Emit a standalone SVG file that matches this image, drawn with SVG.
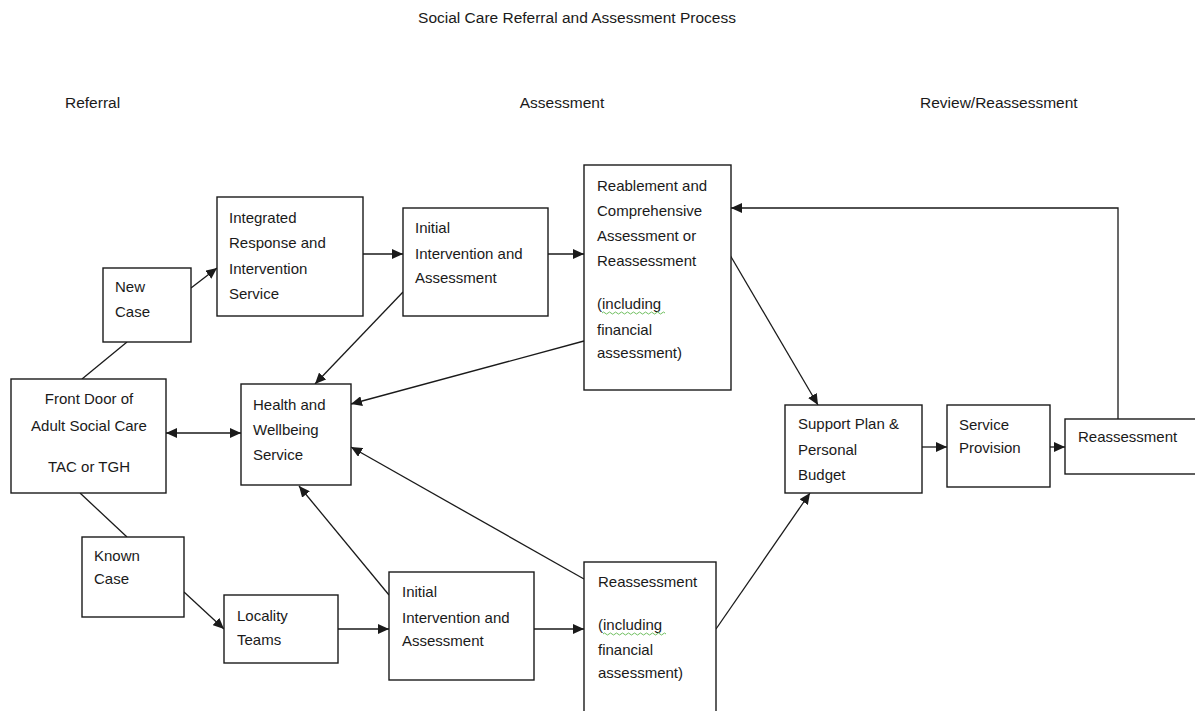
<svg xmlns="http://www.w3.org/2000/svg" width="1195" height="711" viewBox="0 0 1195 711">
<style>
text{font-family:"Liberation Sans",Arial,sans-serif;font-size:15px;fill:#1a1a1a}
.hd{font-size:15.5px}
.box{fill:#fff;stroke:#1a1a1a;stroke-width:1.4}
.c{fill:none;stroke:#1a1a1a;stroke-width:1.3}
.mid{text-anchor:middle}
.sq{fill:none;stroke:#6fbf5f;stroke-width:1}
</style>
<defs>
<marker id="ah" markerUnits="userSpaceOnUse" markerWidth="12" markerHeight="10" refX="11" refY="5" orient="auto-start-reverse">
<path d="M0,0 L11,5 L0,10 Z" fill="#1a1a1a"/>
</marker>
</defs>
<rect width="1195" height="711" fill="#fff"/>
<g id="headers">
<text x="577" y="23" class="mid hd">Social Care Referral and Assessment Process</text>
<text x="65" y="108" class="hd">Referral</text>
<text x="562" y="108" class="mid hd">Assessment</text>
<text x="920" y="108" class="hd">Review/Reassessment</text>
</g>
<g id="connectors">
<line class="c" x1="191" y1="288" x2="217" y2="268" marker-end="url(#ah)"/>
<line class="c" x1="127" y1="342" x2="82" y2="379"/>
<line class="c" x1="166" y1="433" x2="241" y2="433" marker-start="url(#ah)" marker-end="url(#ah)"/>
<line class="c" x1="363" y1="254" x2="403" y2="254" marker-end="url(#ah)"/>
<line class="c" x1="403" y1="292" x2="315" y2="384" marker-end="url(#ah)"/>
<line class="c" x1="548" y1="254" x2="584" y2="254" marker-end="url(#ah)"/>
<line class="c" x1="584" y1="341" x2="351" y2="404" marker-end="url(#ah)"/>
<line class="c" x1="584" y1="579" x2="351" y2="447" marker-end="url(#ah)"/>
<line class="c" x1="389" y1="595" x2="299" y2="486" marker-end="url(#ah)"/>
<line class="c" x1="80" y1="493" x2="127" y2="537"/>
<line class="c" x1="184" y1="592" x2="224" y2="629" marker-end="url(#ah)"/>
<line class="c" x1="338" y1="629" x2="389" y2="629" marker-end="url(#ah)"/>
<line class="c" x1="534" y1="629" x2="584" y2="629" marker-end="url(#ah)"/>
<line class="c" x1="716" y1="629" x2="810" y2="493" marker-end="url(#ah)"/>
<line class="c" x1="730" y1="255" x2="818" y2="405" marker-end="url(#ah)"/>
<line class="c" x1="922" y1="447" x2="947" y2="447" marker-end="url(#ah)"/>
<line class="c" x1="1050" y1="447" x2="1065" y2="447" marker-end="url(#ah)"/>
<polyline class="c" points="1118,419 1118,208 731,208" marker-end="url(#ah)"/>
</g>
<g id="new-case">
<rect class="box" x="103" y="268" width="88" height="74"/>
<text x="115" y="292">New</text>
<text x="115" y="317">Case</text>
</g>
<g id="integrated-response">
<rect class="box" x="217" y="197" width="146" height="119"/>
<text x="229" y="223">Integrated</text>
<text x="229" y="248">Response and</text>
<text x="229" y="274">Intervention</text>
<text x="229" y="299">Service</text>
</g>
<g id="front-door">
<rect class="box" x="11" y="379" width="155" height="114"/>
<text x="89" y="404" class="mid">Front Door of</text>
<text x="89" y="431" class="mid">Adult Social Care</text>
<text x="89" y="472" class="mid">TAC or TGH</text>
</g>
<g id="health-wellbeing">
<rect class="box" x="241" y="384" width="110" height="101"/>
<text x="253" y="410">Health and</text>
<text x="253" y="435">Wellbeing</text>
<text x="253" y="460">Service</text>
</g>
<g id="initial-top">
<rect class="box" x="403" y="208" width="145" height="108"/>
<text x="415" y="233">Initial</text>
<text x="415" y="259">Intervention and</text>
<text x="415" y="283">Assessment</text>
</g>
<g id="reablement">
<rect class="box" x="584" y="165" width="147" height="225"/>
<text x="597" y="191">Reablement and</text>
<text x="597" y="216">Comprehensive</text>
<text x="597" y="241">Assessment or</text>
<text x="597" y="266">Reassessment</text>
<text x="597" y="309">(including</text>
<path class="sq" d="M602,313 q1.5,-2 3,0 t3,0 t3,0 t3,0 t3,0 t3,0 t3,0 t3,0 t3,0 t3,0 t3,0 t3,0 t3,0 t3,0 t3,0 t3,0 t3,0 t3,0 t3,0 t3,0 t3,0"/>
<text x="597" y="335">financial</text>
<text x="597" y="358">assessment)</text>
</g>
<g id="known-case">
<rect class="box" x="82" y="537" width="102" height="80"/>
<text x="94" y="561">Known</text>
<text x="94" y="584">Case</text>
</g>
<g id="locality-teams">
<rect class="box" x="224" y="595" width="114" height="68"/>
<text x="237" y="621">Locality</text>
<text x="237" y="645">Teams</text>
</g>
<g id="initial-bottom">
<rect class="box" x="389" y="572" width="145" height="108"/>
<text x="402" y="597">Initial</text>
<text x="402" y="623">Intervention and</text>
<text x="402" y="646">Assessment</text>
</g>
<g id="reassessment-bottom">
<rect class="box" x="584" y="562" width="132" height="160"/>
<text x="598" y="587">Reassessment</text>
<text x="598" y="630">(including</text>
<path class="sq" d="M603,634 q1.5,-2 3,0 t3,0 t3,0 t3,0 t3,0 t3,0 t3,0 t3,0 t3,0 t3,0 t3,0 t3,0 t3,0 t3,0 t3,0 t3,0 t3,0 t3,0 t3,0 t3,0 t3,0"/>
<text x="598" y="655">financial</text>
<text x="598" y="678">assessment)</text>
</g>
<g id="support-plan">
<rect class="box" x="785" y="405" width="137" height="88"/>
<text x="798" y="429">Support Plan &amp;</text>
<text x="798" y="455">Personal</text>
<text x="798" y="480">Budget</text>
</g>
<g id="service-provision">
<rect class="box" x="947" y="405" width="103" height="82"/>
<text x="959" y="430">Service</text>
<text x="959" y="453">Provision</text>
</g>
<g id="reassessment-right">
<rect class="box" x="1065" y="419" width="140" height="55"/>
<text x="1078" y="442">Reassessment</text>
</g>
</svg>
